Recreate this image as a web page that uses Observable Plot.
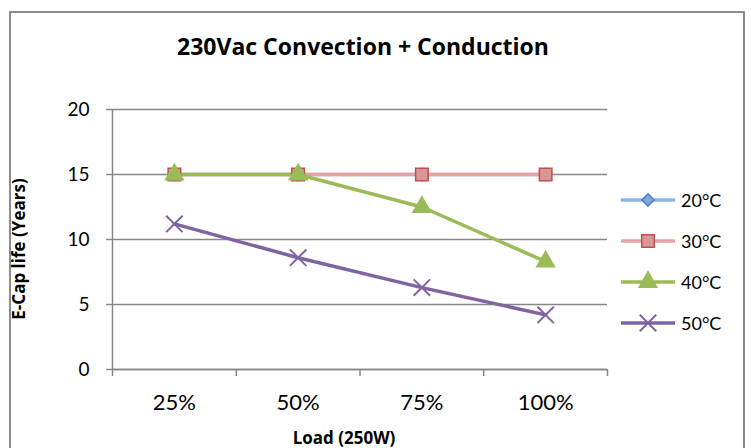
<!DOCTYPE html>
<html>
<head>
<meta charset="utf-8">
<script src="https://cdn.jsdelivr.net/npm/d3@7"></script>
<script src="https://cdn.jsdelivr.net/npm/@observablehq/plot@0.6"></script>
<style>
  html, body { margin: 0; padding: 0; background: #fff; }
  #wrap { position: relative; width: 751px; height: 448px; overflow: hidden; font-family: Lato, "Open Sans", sans-serif; }
  #frame { position: absolute; left: 9px; top: 11px; width: 736px; height: 460px; border: 2px solid #8c8c8c; box-sizing: border-box; }
  #title { position: absolute; left: 0; width: 726px; top: 46px; transform: translateY(-50%); text-align: center; font-family: "Open Sans", sans-serif; font-weight: bold; font-size: 23px; color: #000; }
  #ylab { position: absolute; left: 18px; top: 249px; transform: translate(-50%, -50%) rotate(-90deg); font-family: "Open Sans", sans-serif; font-weight: bold; font-size: 17px; white-space: nowrap; }
  #xlab { position: absolute; left: 344px; top: 437px; transform: translate(-50%, -50%); font-family: "Open Sans", sans-serif; font-weight: bold; font-size: 17px; white-space: nowrap; }
  #legend { position: absolute; left: 621px; top: 0; }
  .lrow { position: absolute; left: 0; display: flex; align-items: center; height: 24px; transform: translateY(-50%); }
  .lrow span { font-size: 18px; margin-left: 6px; color: #000; }
  #chart { position: absolute; left: 0; top: 0; }
</style>
</head>
<body>
<div id="wrap">
  <div id="frame"></div>
  <div id="chart"></div>
  <div id="title">230Vac Convection + Conduction</div>
  <div id="ylab">E-Cap life (Years)</div>
  <div id="xlab">Load (250W)</div>
  <div id="legend"></div>
</div>
<script>
// ---- data ----
const loads = ["25%", "50%", "75%", "100%"];
const seriesNames = ["20°C", "30°C", "40°C", "50°C"];
const life20 = [15, 15, 15, 15];
const life30 = [15, 15, 15, 15];
const life40 = [15, 15, 12.5, 8.3];
const life50 = [11.2, 8.6, 6.3, 4.2];
const yTicks = [0, 5, 10, 15, 20];

// ---- styles ----
const styles = [
  {line: "#8db4e2", fill: "#7ea6e0", stroke: "#4f81bd", symbol: "diamond2", r: 5.5},
  {line: "#e6a3a1", fill: "#d99694", stroke: "#c0504d", symbol: "square2", r: 8},
  {line: "#9bbb59", fill: "#9bbb59", stroke: "#9bbb59", symbol: "triangle2", r: 8.5},
  {line: "#8064a2", fill: "none", stroke: "#8064a2", symbol: "times", r: 7.5}
];

const allValues = [life20, life30, life40, life50];
const rows = [];
seriesNames.forEach((s, si) => {
  loads.forEach((l, li) => rows.push({series: s, si, load: l, idx: li + 0.5, value: allValues[si][li]}));
});

const marks = [
  Plot.gridY(yTicks, {stroke: "#868686", strokeOpacity: 1, strokeWidth: 1.5}),
  Plot.axisY(yTicks, {tickSize: 6, tickPadding: 17, fontSize: 19, stroke: "#868686", strokeWidth: 1.5, color: "#000", label: null}),
  Plot.axisX([0, 1, 2, 3, 4], {tickSize: 7, tickFormat: () => "", stroke: "#868686", strokeWidth: 1.5, label: null}),
  Plot.axisX(loads.map((d, i) => i + 0.5), {tickSize: 0, tickPadding: 25, fontSize: 22, tickFormat: (d) => loads[Math.round(d - 0.5)], label: null}),
  Plot.ruleX([0], {stroke: "#868686", strokeWidth: 1.5}),
  Plot.ruleY([0], {stroke: "#868686", strokeWidth: 1.5})
];
seriesNames.forEach((s, si) => {
  const st = styles[si];
  const d = rows.filter(r => r.si === si);
  marks.push(Plot.line(d, {x: "idx", y: "value", stroke: st.line, strokeWidth: 3.5}));
});
seriesNames.forEach((s, si) => {
  const st = styles[si];
  const d = rows.filter(r => r.si === si);
  marks.push(Plot.dot(d, {x: "idx", y: "value", symbol: () => st.symbol, r: st.r, fill: st.fill, stroke: st.stroke, strokeWidth: si === 3 ? 2 : 1.5}));
});

const chart = Plot.plot({
  width: 751,
  height: 448,
  marginLeft: 112,
  marginRight: 144,
  marginTop: 109,
  marginBottom: 79,
  style: {fontFamily: "Lato, 'Open Sans', sans-serif", color: "#000", background: "transparent"},
  x: {type: "linear", domain: [0, 4]},
  y: {domain: [0, 20]},
  symbol: {type: "identity"},
  marks
});
document.getElementById("chart").appendChild(chart);

// legend
const legend = document.getElementById("legend");
const legendY = [200, 241, 282, 323];
seriesNames.forEach((s, si) => {
  const st = styles[si];
  const row = document.createElement("div");
  row.className = "lrow";
  row.style.top = legendY[si] + "px";
  const sym = d3.symbol().type({diamond2: d3.symbolDiamond2, square2: d3.symbolSquare2, triangle2: d3.symbolTriangle2, times: d3.symbolTimes}[st.symbol]).size(Math.PI * st.r * st.r)();
  row.innerHTML = `<svg width="54" height="24"><line x1="0" x2="54" y1="12" y2="12" stroke="${st.line}" stroke-width="3.5"/><path transform="translate(27,12)" d="${sym}" fill="${st.fill}" stroke="${st.stroke}" stroke-width="${si === 3 ? 2 : 1.5}"/></svg><span>${s}</span>`;
  legend.appendChild(row);
});
</script>
</body>
</html>
